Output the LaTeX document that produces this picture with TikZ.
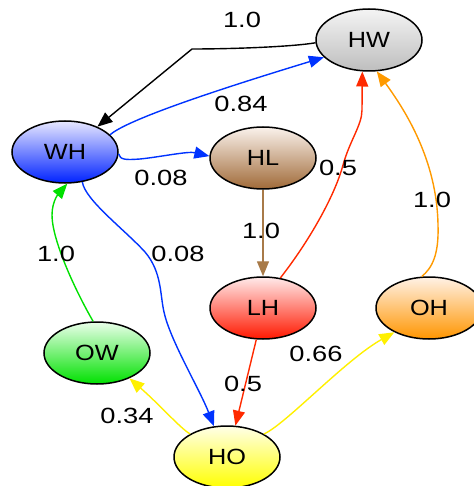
\documentclass[tikz,border=0pt]{standalone}
\usepackage{fontspec}
\setmainfont{Liberation Sans}
\newfontfamily\lblfont{Liberation Sans}[FakeStretch=1.24]
\newfontfamily\ndfont{Liberation Sans}[FakeStretch=1.15]
\usetikzlibrary{shapes.geometric,arrows.meta}
\definecolor{cblue}{HTML}{0033FF}
\definecolor{cbrown}{HTML}{A87A48}
\definecolor{cred}{HTML}{FF2A00}
\definecolor{corange}{HTML}{FF9A00}
\definecolor{cgreen}{HTML}{00E000}
\definecolor{cyellow}{HTML}{FFF000}
\definecolor{hwtop}{RGB}{244,244,244}\definecolor{hwbot}{RGB}{190,190,190}
\definecolor{whtop}{RGB}{232,232,255}\definecolor{whbot}{RGB}{0,34,255}
\definecolor{hltop}{RGB}{250,242,236}\definecolor{hlbot}{RGB}{160,106,56}
\definecolor{lhtop}{RGB}{255,234,234}\definecolor{lhbot}{RGB}{255,24,0}
\definecolor{ohtop}{RGB}{255,242,230}\definecolor{ohbot}{RGB}{255,149,0}
\definecolor{owtop}{RGB}{234,255,234}\definecolor{owbot}{RGB}{0,224,0}
\definecolor{hotop}{RGB}{255,255,232}\definecolor{hobot}{RGB}{255,255,0}
\begin{document}
\begin{tikzpicture}[x=1pt,y=-1pt,
  st/.style={ellipse, draw, line width=1.5pt, minimum width=106pt, minimum height=62pt, inner sep=0pt,
    font=\ndfont\fontsize{22}{25}\selectfont},
  lbl/.style={font=\lblfont\fontsize{22}{26}\selectfont, inner sep=0pt},
  ed/.style={line width=1.4pt, -{Triangle[length=15pt,width=12pt]}}]
\useasboundingbox (0,0) rectangle (473,486);
\node[st, top color=hwtop, bottom color=hwbot] (HW) at (369,40) {HW};
\node[st, top color=whtop, bottom color=whbot] (WH) at (65,152) {WH};
\node[st, top color=hltop, bottom color=hlbot] (HL) at (263,158) {HL};
\node[st, top color=lhtop, bottom color=lhbot] (LH) at (263,308) {LH};
\node[st, top color=ohtop, bottom color=ohbot] (OH) at (429,308) {OH};
\node[st, top color=owtop, bottom color=owbot] (OW) at (97,353) {OW};
\node[st, top color=hotop, bottom color=hobot] (HO) at (227,457) {HO};

\draw[ed,black] (HW.183) .. controls (290,47) and (230,49) .. (192,49) -- (WH.38);
\draw[ed,cblue] (WH.21) .. controls (125,122) and (190,98) .. (HW.201);
\draw[ed,cblue] (WH.-2) .. controls (120,160) and (126,160) .. (140,159) .. controls (160,157) and (188,151) .. (HL.178);
\draw[ed,cbrown] (HL) -- (LH);
\draw[ed,cred] (LH.60) .. controls (310,240) and (335,195) .. (343,165) .. controls (350,140) and (362,125) .. (362,110) -- (HW.258);
\draw[ed,corange] (OH.103) .. controls (432,268) and (439,255) .. (438,225) .. controls (437,160) and (405,110) .. (HW.284);
\draw[ed,cgreen] (OW.97) .. controls (75,290) and (52,240) .. (52,215) .. controls (52,200) and (60,192) .. (WH.274);
\draw[ed,cblue] (WH.300) .. controls (85,200) and (125,230) .. (145,252) .. controls (162,272) and (160,295) .. (164,312) .. controls (170,340) and (200,390) .. (HO.113);
\draw[ed,cred] (LH.258) -- (HO.75);
\draw[ed,cyellow] (HO.148) .. controls (180,428) and (160,405) .. (OW.322);
\draw[ed,cyellow] (HO.32) .. controls (285,425) and (345,360) .. (OH.215);

\node[lbl] (l1) at (242,20) {1.0};
\node[lbl] (l2) at (241,104) {0.84};
\node[lbl] (l3) at (161,178) {0.08};
\node[lbl] (l4) at (338,168) {0.5};
\node[lbl] (l5) at (432,200) {1.0};
\node[lbl] (l6) at (261,231) {1.0};
\node[lbl] (l7) at (56,254) {1.0};
\node[lbl] (l8) at (178,254) {0.08};
\node[lbl] (l9) at (316,354) {0.66};
\node[lbl] (l10) at (243,384) {0.5};
\node[lbl] (l11) at (127,416) {0.34};
\end{tikzpicture}
\end{document}
